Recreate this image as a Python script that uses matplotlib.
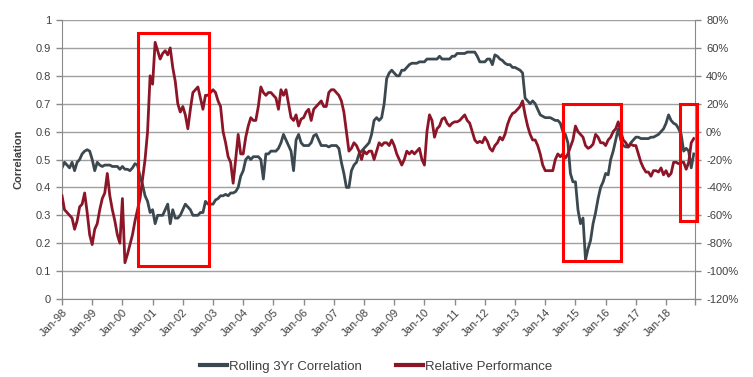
import matplotlib
matplotlib.use("Agg")
import matplotlib.pyplot as plt
from matplotlib.patches import Rectangle
import numpy as np

plt.rcParams["font.family"] = ["Liberation Sans", "DejaVu Sans"]

# monthly observations, Jan-98 .. Dec-18
corr_by_year = [
    [0.47, 0.49, 0.48, 0.47, 0.49, 0.46, 0.49, 0.50, 0.52, 0.53, 0.535, 0.53],      # 1998
    [0.50, 0.46, 0.49, 0.48, 0.475, 0.48, 0.48, 0.48, 0.475, 0.475, 0.475, 0.465],  # 1999
    [0.475, 0.465, 0.465, 0.46, 0.47, 0.485, 0.48, 0.44, 0.41, 0.37, 0.35, 0.31],   # 2000
    [0.32, 0.27, 0.30, 0.30, 0.30, 0.32, 0.34, 0.27, 0.32, 0.29, 0.29, 0.30],       # 2001
    [0.32, 0.34, 0.33, 0.32, 0.30, 0.30, 0.30, 0.31, 0.31, 0.35, 0.34, 0.34],       # 2002
    [0.34, 0.355, 0.36, 0.37, 0.37, 0.375, 0.37, 0.38, 0.38, 0.385, 0.40, 0.44],    # 2003
    [0.46, 0.50, 0.51, 0.50, 0.51, 0.51, 0.51, 0.50, 0.43, 0.52, 0.52, 0.53],       # 2004
    [0.53, 0.53, 0.54, 0.56, 0.59, 0.57, 0.55, 0.53, 0.46, 0.57, 0.59, 0.56],       # 2005
    [0.55, 0.55, 0.55, 0.56, 0.585, 0.59, 0.57, 0.55, 0.55, 0.55, 0.545, 0.55],     # 2006
    [0.55, 0.55, 0.54, 0.49, 0.45, 0.40, 0.40, 0.46, 0.48, 0.49, 0.52, 0.53],       # 2007
    [0.54, 0.55, 0.56, 0.59, 0.64, 0.65, 0.64, 0.65, 0.70, 0.79, 0.81, 0.82],       # 2008
    [0.81, 0.80, 0.80, 0.82, 0.82, 0.83, 0.84, 0.845, 0.845, 0.845, 0.85, 0.85],    # 2009
    [0.85, 0.86, 0.86, 0.86, 0.86, 0.86, 0.87, 0.86, 0.86, 0.86, 0.86, 0.87],       # 2010
    [0.87, 0.88, 0.88, 0.88, 0.88, 0.885, 0.885, 0.885, 0.885, 0.87, 0.85, 0.85],   # 2011
    [0.85, 0.86, 0.86, 0.84, 0.875, 0.87, 0.86, 0.855, 0.845, 0.84, 0.84, 0.83],    # 2012
    [0.83, 0.825, 0.82, 0.81, 0.72, 0.71, 0.70, 0.71, 0.70, 0.68, 0.66, 0.655],     # 2013
    [0.65, 0.65, 0.65, 0.645, 0.64, 0.64, 0.63, 0.60, 0.59, 0.56, 0.45, 0.42],      # 2014
    [0.42, 0.32, 0.27, 0.29, 0.14, 0.18, 0.21, 0.27, 0.31, 0.36, 0.40, 0.42],       # 2015
    [0.45, 0.445, 0.50, 0.53, 0.57, 0.61, 0.57, 0.55, 0.545, 0.545, 0.56, 0.57],    # 2016
    [0.58, 0.58, 0.575, 0.575, 0.575, 0.575, 0.58, 0.58, 0.585, 0.59, 0.60, 0.61],  # 2017
    [0.63, 0.66, 0.64, 0.63, 0.625, 0.61, 0.59, 0.53, 0.54, 0.53, 0.47, 0.52],      # 2018
]

relperf_by_year = [  # percent
    [-46, -56, -58, -60, -62, -70, -64, -54, -52, -44, -58, -74],
    [-81, -70, -66, -56, -48, -44, -30, -46, -56, -64, -74, -80],
    [-48, -94, -88, -81, -74, -64, -56, -48, -34, -20, 0, 40],
    [34, 64, 58, 52, 56, 58, 55, 60, 46, 36, 20, 14],
    [18, 12, 2, 16, 28, 30, 32, 24, 16, 26, 26, 28],
    [30, 28, 22, 18, 0, -8, -18, -22, -37, -20, -2, -16],
    [-16, -4, 4, 10, 8, 8, 18, 32, 28, 26, 28, 28],
    [26, 24, 16, 30, 26, 30, 20, 10, 8, 12, 4, 9],
    [10, 14, 16, 8, 16, 18, 20, 22, 18, 18, 28, 30],
    [30, 28, 26, 22, 14, 0, -14, -12, -8, -10, -14, -20],
    [-14, -16, -14, -14, -20, -14, -8, -10, -8, -8, -10, -6],
    [-10, -16, -20, -24, -20, -14, -16, -14, -16, -14, -12, -20],
    [-24, 0, 12, 8, -4, 2, 4, 9, 10, 6, 4, 6],
    [7, 7, 8, 10, 12, 8, 6, 0, -6, -8, -7, -8],
    [-4, -7, -12, -14, -10, -8, -4, -6, -2, 5, 10, 13],
    [14, 16, 18, 22, 12, 4, -2, -6, -6, -10, -16, -24],
    [-28, -28, -28, -28, -20, -16, -18, -16, -19, -16, -11, -6],
    [4, 0, -2, -4, -10, -12, -11, -9, -2, -4, -8, -8],
    [-10, -6, -4, 0, 2, 7, 0, -6, -8, -11, -9, -10],
    [-10, -16, -22, -26, -29, -29, -32, -28, -28, -29, -26, -31],
    [-28, -32, -30, -22, -22, -23, -22, -22, -27, -22, -8, -5],
]

years = [f"Jan-{y % 100:02d}" for y in range(1998, 2019)]

# highlighted windows: (first month, last month, low %, high %) on the right axis
highlights = [(30.1, 58.5, -96, 71), (198.9, 222.1, -93, 20), (245.6, 252.2, -64, 20)]

corr = np.concatenate(corr_by_year)
rel = np.concatenate(relperf_by_year)
x = np.arange(len(corr))

GRAY = "#3c4850"
RED = "#8c1628"
AXC = "#8a8a8a"
TXT = "#404040"

fig = plt.figure(figsize=(7.53, 3.77), dpi=100)
ax = fig.add_axes([62 / 753, 78 / 377, 633 / 753, 279 / 377])
ax2 = ax.twinx()

ax.plot(x, corr, color=GRAY, lw=2.0, label="Rolling 3Yr Correlation", solid_joinstyle="round")
ax2.plot(x, rel, color=RED, lw=2.0, label="Relative Performance", solid_joinstyle="round")

ax.set_xlim(0, len(corr) - 0.5)
ax.set_ylim(0, 1)
ax2.set_ylim(-120, 80)

ax.set_yticks(np.arange(0, 1.01, 0.1))
ax.set_yticklabels(["0"] + [f"{v:.1f}" for v in np.arange(0.1, 0.95, 0.1)] + ["1"])
ax2.set_yticks(np.arange(-120, 81, 20))
ax2.set_yticklabels([f"{v}%" for v in range(-120, 81, 20)])

ax.set_xticks(list(range(0, len(corr), 12)) + [len(corr) - 0.5])
ax.set_xticklabels(years + [""], rotation=45, ha="right", rotation_mode="anchor")

ax.grid(axis="y", color="#a0a0a0", lw=1.0)
ax.set_axisbelow(True)

for a in (ax, ax2):
    for s in a.spines.values():
        s.set_color(AXC)
    a.spines["top"].set_visible(False)
    a.tick_params(colors=AXC, labelcolor=TXT, labelsize=8, length=4, width=1)
ax2.spines["left"].set_visible(False)
ax2.spines["bottom"].set_visible(False)
ax.spines["right"].set_visible(False)
ax.tick_params(axis="x", pad=2)
ax.tick_params(axis="y", pad=4)
ax2.tick_params(axis="y", pad=4)

ax.set_ylabel("Correlation", fontsize=8, fontweight="bold", color=TXT, labelpad=9)

for x0, x1, lo, hi in highlights:
    ax2.add_patch(Rectangle((x0, lo), x1 - x0, hi - lo, fill=False,
                            edgecolor="#ff0000", lw=2.2, clip_on=False, zorder=5))

h1, l1 = ax.get_legend_handles_labels()
h2, l2 = ax2.get_legend_handles_labels()
leg = fig.legend(h1 + h2, l1 + l2, loc="center", bbox_to_anchor=(0.5, 0.027), ncol=2,
                 frameon=False, handlelength=2.0, handletextpad=0.2,
                 columnspacing=2.6, labelcolor=TXT,
                 prop={"family": ["Liberation Sans Narrow", "Liberation Sans"], "size": 9.5})
for line in leg.get_lines():
    line.set_linewidth(3.0)

fig.savefig("out.png", dpi=100)
